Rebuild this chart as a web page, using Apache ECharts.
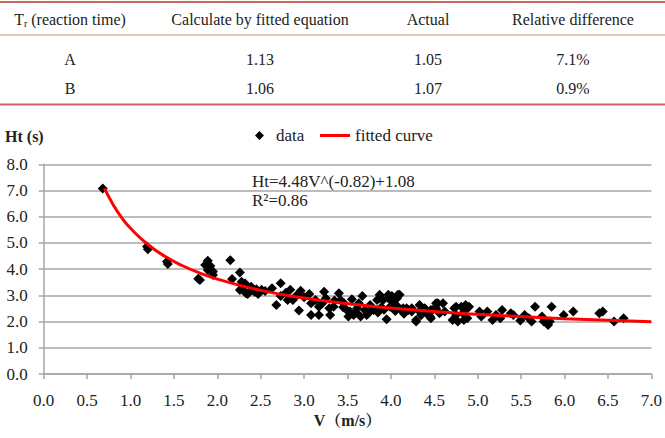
<!DOCTYPE html>
<html>
<head>
<meta charset="utf-8">
<script src="https://cdn.jsdelivr.net/npm/echarts@6/dist/echarts.min.js"></script>
<style>
html,body{margin:0;padding:0;background:#fff;}
#chart{width:665px;height:438px;}
</style>
</head>
<body>
<div id="chart"></div>
<script>
// ---- table content ----
var tableHeaders = ['Tr (reaction time)', 'Calculate by fitted equation', 'Actual', 'Relative difference'];
var tableRowA = ['A', '1.13', '1.05', '7.1%'];
var tableRowB = ['B', '1.06', '1.07', '0.9%'];

// ---- scatter data (V in m/s, Ht in s) ----
var dataV = [0.68,1.19,1.20,1.42,1.43,1.78,1.80,1.89,1.86,1.92,1.89,1.95,1.95,2.15,2.26,2.17,2.28,2.31,2.26,2.33,2.32,2.39,2.35,2.45,2.51,2.43,2.28,2.48,2.40,2.47,2.55,
  2.63,2.73,2.68,2.73,2.79,2.84,2.81,2.87,2.94,2.92,2.96,3.00,3.06,3.08,3.08,3.13,3.17,3.17,3.23,3.25,3.21,3.29,3.30,3.34,3.40,3.42,3.46,3.49,3.51,3.53,3.57,3.61,3.63,3.67,3.65,3.70,3.74,3.76,3.80,3.84,3.87,3.89,3.91,3.95,3.97,4.01,4.03,4.07,4.10,4.08,4.14,4.20,4.24,4.29,4.33,4.37,4.41,4.45,4.46,4.52,4.56,4.60,4.62,
  3.35,3.55,3.45,3.60,3.72,3.85,3.92,4.15,4.05,
  4.12,4.18,4.24,4.33,4.35,4.39,4.43,4.46,4.48,4.54,4.73,4.75,4.77,4.81,4.83,4.86,4.88,4.84,4.90,5.02,5.04,5.11,5.17,5.21,5.26,5.28,5.38,5.41,5.49,5.54,5.59,5.62,5.66,5.74,5.76,5.81,5.85,5.83,5.99,6.10,6.40,6.44,6.57,6.68,
  3.87,3.97,4.08,3.99,4.29,4.52,4.75,4.86,4.71];
var dataHt = [7.08,4.86,4.76,4.29,4.20,3.63,3.59,4.32,4.16,4.12,3.97,3.91,3.78,4.34,3.87,3.62,3.52,3.36,3.20,3.08,3.45,3.33,3.05,3.23,3.21,3.14,3.40,3.14,3.20,3.05,3.17,
  3.27,3.46,2.63,2.98,3.10,3.21,2.82,2.82,2.42,3.02,3.18,2.93,3.05,2.70,2.25,2.82,2.57,2.25,3.14,2.89,2.70,2.51,2.25,2.57,3.08,2.82,2.70,2.44,2.19,2.38,2.25,2.51,2.70,2.98,2.19,2.44,2.32,2.63,2.44,2.82,2.89,2.55,2.82,2.09,2.89,2.98,2.76,2.89,3.02,2.57,2.51,2.44,2.51,2.06,2.38,2.47,2.32,2.19,2.44,2.51,2.32,2.70,2.38,
  2.80,2.85,2.55,2.35,2.25,2.35,2.45,2.30,2.40,
  2.44,2.51,2.38,2.63,2.25,2.51,2.32,2.13,2.44,2.70,2.51,2.25,2.00,2.57,2.32,2.44,2.13,2.06,2.57,2.38,2.19,2.38,2.06,2.25,2.13,2.44,2.32,2.25,2.04,2.25,2.13,2.00,2.57,2.19,2.00,1.87,2.57,2.00,2.25,2.38,2.32,2.38,2.00,2.13,
  3.02,3.02,3.02,2.57,2.00,2.70,2.57,2.63,2.06];

// ---- fitted curve ----
var curveV  = [0.70,0.80,0.90,1.00,1.20,1.40,1.60,1.80,2.00,2.50,3.00,3.50,4.00,4.50,5.00,5.50,6.00,6.50,7.00];
var curveHt = [7.08,6.46,5.96,5.56,4.94,4.48,4.13,3.85,3.62,3.19,2.90,2.68,2.52,2.38,2.28,2.19,2.11,2.05,1.99];

var scatterPts = dataV.map(function (v, i) { return [v, dataHt[i]]; });
var curvePts = curveV.map(function (v, i) { return [v, curveHt[i]]; });

var SERIF = '"Liberation Serif", "Times New Roman", "Noto Serif CJK SC", serif';
var colX = [70, 260, 428, 573];
var rowY = [19, 59, 88];

var graphics = [
  {type:'line', shape:{x1:0,y1:2,x2:665,y2:2}, style:{stroke:'#c76a5c', lineWidth:2}},
  {type:'line', shape:{x1:0,y1:35,x2:665,y2:35}, style:{stroke:'#e2b3ab', lineWidth:1.5}},
  {type:'line', shape:{x1:0,y1:104.5,x2:665,y2:104.5}, style:{stroke:'#c76a5c', lineWidth:2}}
];
// header
graphics.push({type:'text', x:colX[0], y:rowY[0], style:{
  text:'{t|T}{s|r}{t| (reaction time)}', textAlign:'center', textVerticalAlign:'middle',
  rich:{t:{fontFamily:SERIF, fontSize:16, fill:'#222'}, s:{fontFamily:SERIF, fontSize:10, fill:'#222', padding:[9,0,0,0]}}
}});
for (var c = 1; c < 4; c++) {
  graphics.push({type:'text', x:colX[c], y:rowY[0], style:{text:tableHeaders[c], textAlign:'center', textVerticalAlign:'middle', fontFamily:SERIF, fontSize:16, fill:'#222'}});
}
[tableRowA, tableRowB].forEach(function (row, r) {
  row.forEach(function (txt, c) {
    graphics.push({type:'text', x:colX[c], y:rowY[r+1], style:{text:txt, textAlign:'center', textVerticalAlign:'middle', fontFamily:SERIF, fontSize:16, fill:'#222'}});
  });
});
// equation annotation
graphics.push({type:'text', x:252, y:181, style:{text:'Ht=4.48V^(-0.82)+1.08', textVerticalAlign:'middle', fontFamily:SERIF, fontSize:17, fill:'#222'}});
graphics.push({type:'text', x:252, y:200.5, style:{text:'R\u00b2=0.86', textVerticalAlign:'middle', fontFamily:SERIF, fontSize:17, fill:'#222'}});

var chart = echarts.init(document.getElementById('chart'), null, {renderer:'svg'});
chart.setOption({
  animation:false,
  backgroundColor:'#fff',
  graphic: graphics,
  legend:[
    {data:[{name:'data', icon:'diamond'}], left:255, top:127, padding:0, itemWidth:9, itemHeight:9,
     textStyle:{fontFamily:SERIF, fontSize:17, color:'#222', padding:[0,0,0,7]}},
    {data:[{name:'fitted curve', icon:'rect', itemStyle:{color:'#ff0000'}}], left:320, top:127, padding:0, itemWidth:30, itemHeight:3,
     textStyle:{fontFamily:SERIF, fontSize:17, color:'#222'}}
  ],
  grid:{left:43.7, right:7.8, top:164.3, bottom:64, containLabel:false},
  xAxis:{
    type:'value', min:0, max:7, interval:0.5,
    name:'V\uff08m/s\uff09', nameLocation:'middle', nameGap:38,
    nameTextStyle:{fontFamily:SERIF, fontSize:16, fontWeight:'bold', color:'#222'},
    axisLine:{show:true, onZero:false, lineStyle:{color:'#a6a6a6', width:1.5}},
    axisTick:{show:true, length:5, lineStyle:{color:'#a6a6a6', width:1.5}},
    axisLabel:{margin:18, fontFamily:SERIF, fontSize:17, color:'#222', formatter:function(v){return v.toFixed(1);}},
    splitLine:{show:false}
  },
  yAxis:{
    type:'value', min:0, max:8, interval:1,
    name:'Ht (s)', nameLocation:'end', nameGap:20,
    nameTextStyle:{fontFamily:SERIF, fontSize:16, fontWeight:'bold', color:'#222', align:'right'},
    axisLine:{show:true, lineStyle:{color:'#a6a6a6', width:1.5}},
    axisTick:{show:true, length:5, lineStyle:{color:'#a6a6a6', width:1.5}},
    axisLabel:{margin:16, fontFamily:SERIF, fontSize:17, color:'#222', formatter:function(v){return v.toFixed(1);}},
    splitLine:{show:true, lineStyle:{color:'#a6a6a6', width:1.5}}
  },
  series:[
    {name:'data', type:'scatter', data:scatterPts, symbol:'diamond', symbolSize:10,
     itemStyle:{color:'#000', opacity:1}, z:2},
    {name:'fitted curve', type:'line', data:curvePts, smooth:true, showSymbol:false, symbol:'none',
     lineStyle:{color:'#ff0000', width:3}, itemStyle:{color:'#ff0000'}, z:3}
  ]
});
</script>
</body>
</html>
